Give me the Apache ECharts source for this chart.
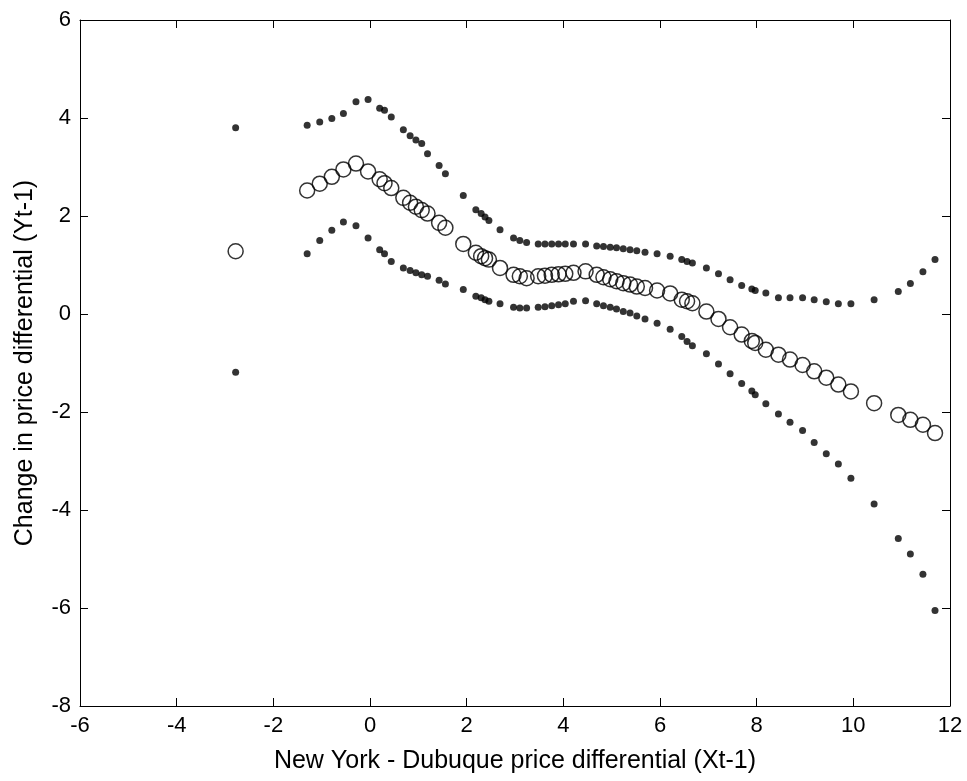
<!DOCTYPE html>
<html>
<head>
<meta charset="utf-8">
<script src="https://cdn.jsdelivr.net/npm/echarts@6/dist/echarts.min.js"></script>
<style>
  html, body { margin: 0; padding: 0; background: #fff; }
  #chart { width: 967px; height: 781px; }
</style>
</head>
<body>
<div id="chart"></div>
<script>
// Lagged price differential (x) and the estimated change in the differential:
// fitted mean with upper / lower bands.
const xValues = [
  -2.78, -1.30, -1.04, -0.79, -0.55, -0.29, -0.04, 0.20, 0.30, 0.44,
  0.69, 0.83, 0.95, 1.07, 1.19, 1.43, 1.56, 1.93, 2.19, 2.30,
  2.38, 2.46, 2.69, 2.97, 3.10, 3.24, 3.48, 3.62, 3.76, 3.90,
  4.04, 4.21, 4.46, 4.69, 4.83, 4.97, 5.10, 5.24, 5.38, 5.52,
  5.69, 5.94, 6.21, 6.45, 6.56, 6.67, 6.96, 7.21, 7.45, 7.69,
  7.90, 7.97, 8.19, 8.45, 8.69, 8.95, 9.19, 9.44, 9.69, 9.95,
  10.43, 10.93, 11.18, 11.44, 11.69
];
const meanValues = [
  1.28, 2.52, 2.66, 2.80, 2.95, 3.07, 2.91, 2.75, 2.67, 2.57,
  2.37, 2.27, 2.19, 2.12, 2.05, 1.86, 1.76, 1.43, 1.25, 1.18,
  1.14, 1.11, 0.94, 0.80, 0.77, 0.73, 0.77, 0.78, 0.80, 0.81,
  0.82, 0.84, 0.87, 0.80, 0.75, 0.71, 0.67, 0.63, 0.60, 0.56,
  0.53, 0.48, 0.42, 0.29, 0.26, 0.22, 0.05, -0.10, -0.27, -0.42,
  -0.55, -0.59, -0.73, -0.83, -0.93, -1.04, -1.17, -1.30, -1.44, -1.58,
  -1.82, -2.06, -2.16, -2.26, -2.43
];
const upperValues = [
  3.80, 3.85, 3.92, 3.99, 4.09, 4.33, 4.38, 4.20, 4.16, 4.02,
  3.76, 3.64, 3.55, 3.48, 3.27, 3.03, 2.86, 2.42, 2.13, 2.05,
  1.98, 1.91, 1.72, 1.55, 1.50, 1.46, 1.43, 1.43, 1.43, 1.43,
  1.43, 1.43, 1.43, 1.39, 1.38, 1.36, 1.35, 1.33, 1.31, 1.29,
  1.26, 1.23, 1.18, 1.11, 1.07, 1.04, 0.94, 0.82, 0.70, 0.58,
  0.51, 0.48, 0.43, 0.33, 0.33, 0.33, 0.29, 0.25, 0.21, 0.21,
  0.29, 0.46, 0.62, 0.86, 1.11
];
const lowerValues = [
  -1.19, 1.23, 1.50, 1.71, 1.88, 1.80, 1.55, 1.31, 1.23, 1.07,
  0.94, 0.89, 0.84, 0.80, 0.77, 0.69, 0.61, 0.50, 0.36, 0.33,
  0.29, 0.26, 0.21, 0.14, 0.12, 0.12, 0.14, 0.15, 0.17, 0.19,
  0.21, 0.26, 0.27, 0.21, 0.17, 0.14, 0.10, 0.05, 0.02, -0.04,
  -0.10, -0.19, -0.31, -0.46, -0.56, -0.65, -0.81, -1.02, -1.22, -1.42,
  -1.57, -1.65, -1.83, -2.04, -2.21, -2.38, -2.62, -2.85, -3.06, -3.35,
  -3.88, -4.58, -4.90, -5.31, -6.05
];

const xTicks = { min: -6, max: 12, interval: 2 };
const yTicks = { min: -8, max: 6, interval: 2 };

const pair = (ys) => xValues.map((x, i) => [x, ys[i]]);

const FONT = '"Liberation Sans", Arial, sans-serif';
const axisLine = { show: true, onZero: false, lineStyle: { color: '#000', width: 1 } };
const axisTick = { show: true, inside: true, length: 8, lineStyle: { color: '#000', width: 1 } };
const tickLabel = { color: '#000', fontFamily: FONT, fontSize: 22 };

const chart = echarts.init(document.getElementById('chart'), null, { renderer: 'canvas' });

chart.setOption({
  animation: false,
  backgroundColor: '#fff',
  grid: { left: 80, top: 20, right: 17, bottom: 75 },
  xAxis: [
    {
      type: 'value', position: 'bottom', ...xTicks,
      axisLine, axisTick, splitLine: { show: false },
      axisLabel: { ...tickLabel, margin: 9 },
      name: 'New York - Dubuque price differential (Xt-1)',
      nameLocation: 'middle', nameGap: 43,
      nameTextStyle: { color: '#000', fontFamily: FONT, fontSize: 25 }
    },
    {
      type: 'value', position: 'top', ...xTicks,
      axisLine, axisTick, splitLine: { show: false },
      axisLabel: { show: false }
    }
  ],
  yAxis: [
    {
      type: 'value', position: 'left', ...yTicks,
      axisLine, axisTick, splitLine: { show: false },
      axisLabel: { ...tickLabel, margin: 9 },
      name: 'Change in price differential (Yt-1)',
      nameLocation: 'middle', nameGap: 42, nameRotate: 90,
      nameTextStyle: { color: '#000', fontFamily: FONT, fontSize: 25 }
    },
    {
      type: 'value', position: 'right', ...yTicks,
      axisLine, axisTick, splitLine: { show: false },
      axisLabel: { show: false }
    }
  ],
  series: [
    {
      name: 'Upper', type: 'scatter', data: pair(upperValues),
      symbol: 'circle', symbolSize: 7,
      itemStyle: { color: '#000' }
    },
    {
      name: 'Mean', type: 'scatter', data: pair(meanValues),
      symbol: 'circle', symbolSize: 15,
      itemStyle: { color: 'rgba(0,0,0,0)', borderColor: '#000', borderWidth: 1.5 }
    },
    {
      name: 'Lower', type: 'scatter', data: pair(lowerValues),
      symbol: 'circle', symbolSize: 7,
      itemStyle: { color: '#000' }
    }
  ]
});
</script>
</body>
</html>
